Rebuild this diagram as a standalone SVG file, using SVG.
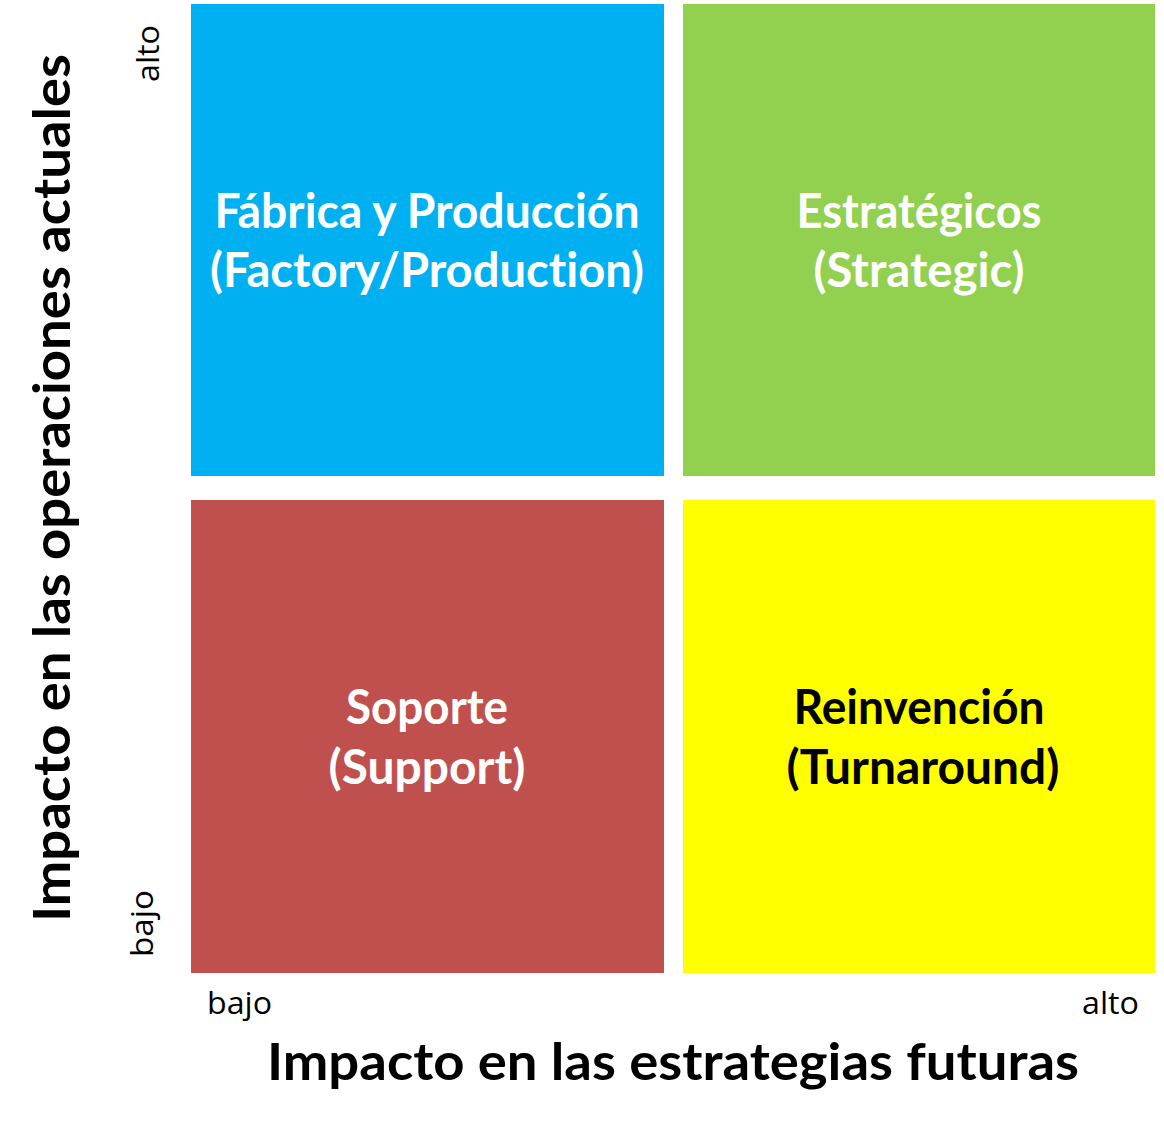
<svg xmlns="http://www.w3.org/2000/svg" width="1164" height="1134" viewBox="0 0 1164 1134">
<style>
text{font-variant-ligatures:none;font-feature-settings:"liga" 0,"clig" 0,"dlig" 0}
.q{font-family:Lato,"Open Sans","Liberation Sans",sans-serif;font-weight:700;font-size:47px;text-anchor:middle}
.w{fill:#FFFFFF}
.k{fill:#000000}
.ax{font-family:Lato,"Open Sans","Liberation Sans",sans-serif;font-weight:700;font-size:51px;fill:#000}
.sm{font-family:"Open Sans","Liberation Sans",sans-serif;font-size:31px;fill:#000}
</style>
<rect width="1164" height="1134" fill="#FFFFFF"/>
<g id="factory">
<rect x="191" y="4" width="473" height="472" fill="#00B0F0"/>
<text class="q w" x="427" y="228" textLength="425" lengthAdjust="spacingAndGlyphs">Fábrica y Producción</text>
<text class="q w" x="427" y="287" textLength="434" lengthAdjust="spacingAndGlyphs">(Factory/Production)</text>
</g>
<g id="strategic">
<rect x="683" y="4" width="472" height="472" fill="#92D050"/>
<text class="q w" x="919" y="228" textLength="245" lengthAdjust="spacingAndGlyphs">Estratégicos</text>
<text class="q w" x="919" y="287" textLength="211" lengthAdjust="spacingAndGlyphs">(Strategic)</text>
</g>
<g id="support">
<rect x="191" y="500" width="473" height="473" fill="#C0504D"/>
<text class="q w" x="427" y="724" textLength="162" lengthAdjust="spacingAndGlyphs">Soporte</text>
<text class="q w" x="427" y="784" textLength="197" lengthAdjust="spacingAndGlyphs">(Support)</text>
</g>
<g id="turnaround">
<rect x="683" y="500" width="472" height="473" fill="#FFFF00"/>
<text class="q k" x="919" y="724" textLength="251" lengthAdjust="spacingAndGlyphs">Reinvención</text>
<text class="q k" x="923" y="784" textLength="273" lengthAdjust="spacingAndGlyphs">(Turnaround)</text>
</g>
<g id="axes">
<text class="ax" x="267" y="1080" textLength="812" lengthAdjust="spacingAndGlyphs">Impacto en las estrategias futuras</text>
<text class="ax" transform="translate(70,922) rotate(-90)" textLength="868" lengthAdjust="spacingAndGlyphs">Impacto en las operaciones actuales</text>
<text class="sm" x="207" y="1014" textLength="65" lengthAdjust="spacingAndGlyphs">bajo</text>
<text class="sm" x="1082" y="1014" textLength="57" lengthAdjust="spacingAndGlyphs">alto</text>
<text class="sm" transform="translate(153,957) rotate(-90)" textLength="67" lengthAdjust="spacingAndGlyphs">bajo</text>
<text class="sm" transform="translate(159,82) rotate(-90)" textLength="57" lengthAdjust="spacingAndGlyphs">alto</text>
</g>
</svg>
